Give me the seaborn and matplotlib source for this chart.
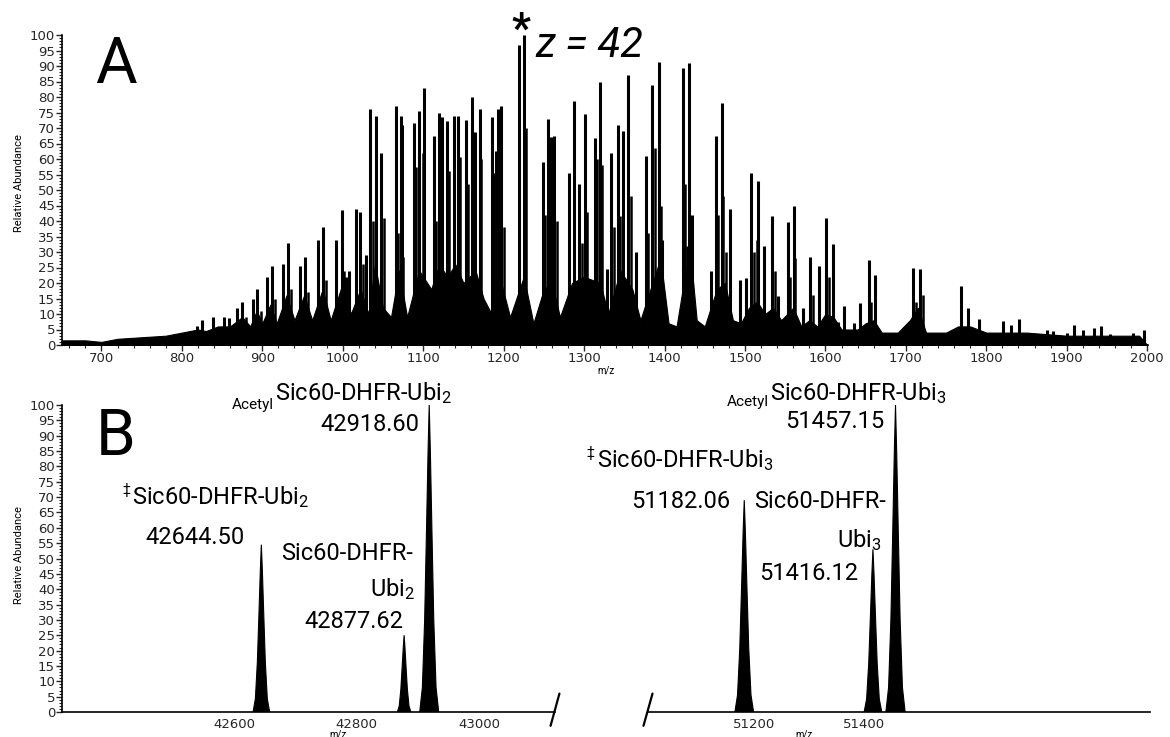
import numpy as np
import pandas as pd
import matplotlib
matplotlib.use("Agg")
import matplotlib.pyplot as plt
import seaborn as sns
from matplotlib import font_manager
from matplotlib.ticker import MultipleLocator, FixedLocator

# ---------------- data ----------------
# Panel A: stick peaks (m/z, relative abundance)
peak_mz = [819, 825, 839, 852, 858, 869, 875, 888, 894, 906, 912, 926, 932, 947, 953,
           969, 975, 991, 999, 1004, 1008, 1016, 1022, 1029, 1034, 1041, 1047, 1066, 1072,
           1074, 1089, 1095, 1101, 1113, 1120, 1123, 1130, 1138, 1143, 1153, 1161, 1164,
           1170, 1186, 1191, 1192.5, 1197, 1219, 1225, 1249, 1255, 1259, 1263, 1281, 1287,
           1294, 1301.5, 1314, 1320, 1328, 1334, 1342, 1348, 1355, 1365, 1377, 1384.5, 1393,
           1397, 1422.5, 1430.5, 1434, 1458, 1464, 1472, 1481, 1494, 1501, 1508, 1516, 1524,
           1534, 1541, 1553, 1561, 1572.5, 1581, 1592, 1601, 1610, 1616, 1623, 1635, 1642.5,
           1654, 1662, 1709, 1718, 1768, 1777, 1791, 1821, 1831, 1841, 1876, 1883, 1900,
           1908.5, 1920.5, 1934, 1942.5, 1954, 1982, 1995.5]
peak_int = [6, 8, 9, 9, 8.7, 12, 14, 15, 18, 22, 25.5, 26, 33, 25.5, 28.5,
            34, 38, 34, 43.5, 22, 24, 44, 43, 29, 76, 74, 62, 77, 74,
            71, 71.6, 75.5, 83, 67.4, 75, 73.5, 72.4, 74, 74, 72.6, 80, 68.8,
            76, 73.7, 62.7, 76, 77, 96.8, 100, 59, 73, 67, 67.4, 55.6, 78.7,
            52, 74.5, 66.8, 85, 24.5, 62, 71, 69, 87, 30, 61, 84, 91.4,
            34, 89.5, 91, 42, 24, 67.5, 78, 44, 21, 21.6, 55.6, 53, 32,
            41.6, 15.8, 39.8, 45, 12, 28.5, 25.6, 41, 32.6, 7.5, 12.7, 7, 13.4,
            27.4, 22.6, 25, 24.4, 19, 12, 8.4, 7.8, 6.5, 8.5, 5, 4.5, 4,
            6.5, 5, 5.5, 6, 3.5, 4, 5]

# Panel A: adduct shoulders next to the main peaks
shoulder_mz = [880, 898, 916, 936, 957, 979, 1002, 1025, 1037, 1051, 1069, 1075, 1091.5,
               1099.4, 1116, 1123.8, 1131.6, 1145.4, 1155.7, 1172.3, 1187.6, 1200, 1228,
               1252, 1266, 1288, 1297, 1303.7, 1316, 1322, 1337, 1344.3, 1358.2, 1380,
               1388.6, 1396, 1426, 1428, 1431, 1467, 1465, 1473, 1476, 1511, 1515, 1537,
               1556, 1561.7, 1584, 1604, 1657, 1712, 1721]
shoulder_int = [9, 11, 15, 18, 17, 21, 24, 26, 40, 41, 36, 28.5, 57.5,
                62, 40, 52, 56, 60.5, 52, 60, 55.5, 38, 70,
                42, 40, 59, 33, 43, 60, 58, 38, 41.5, 48, 36,
                63.4, 45, 52, 32, 64, 42, 33.6, 48, 30, 30, 34, 24,
                22, 28, 16, 22, 14, 14, 16]

# Panel A: top of the dense unresolved background
bg_mz = [651, 680, 700, 720, 750, 780, 800, 820, 830, 845, 860, 875, 885, 893, 900,
         910, 918, 930, 940, 952, 962, 975, 985, 1000, 1010, 1022, 1032, 1040, 1050,
         1060, 1070, 1080, 1095, 1110, 1120, 1130, 1140, 1150, 1165, 1175, 1185, 1195,
         1208, 1225, 1237, 1250, 1260, 1270, 1285, 1300, 1320, 1330, 1345, 1360, 1370,
         1385, 1395, 1405, 1415, 1425, 1432, 1440, 1450, 1465, 1475, 1485, 1495, 1505,
         1515, 1525, 1535, 1545, 1560, 1570, 1580, 1590, 1600, 1610, 1620, 1640, 1650,
         1660, 1670, 1690, 1705, 1715, 1725, 1750, 1765, 1780, 1800, 1850, 1900, 1950,
         1990, 2000]
bg_int = [1.5, 1.5, 1, 2, 2.5, 3, 4, 5, 4.5, 6, 6, 9, 6, 11, 7,
          13, 7, 16, 8, 16, 8, 18, 8, 20, 10, 18, 10, 26, 12,
          9, 24, 9, 24, 18, 26, 22, 26, 20, 24, 15, 10, 22,
          9, 22, 7, 18, 20, 9, 20, 22, 20, 10, 24, 18, 8,
          20, 28, 7, 6, 22, 30, 8, 6, 18, 20, 8, 7, 12,
          14, 10, 12, 8, 12, 6, 8, 6, 10, 9, 5, 5, 7,
          8, 4, 4, 8, 12, 4, 4, 6, 6, 4, 4, 3, 3,
          3, 0]

# Panel B (deconvoluted masses, Da)
b2_mass = [42644.50, 42877.62, 42918.60]
b2_int = [54.5, 25, 100]
b2_halfwidth = [13.5, 11, 15.5]
b3_mass = [51182.06, 51416.12, 51457.15]
b3_int = [69, 53, 100]
b3_halfwidth = [17, 16, 17.5]

# peak profile: fraction of height vs fraction of base half-width
prof_h = [0.0, 0.08, 0.3, 0.6, 0.85, 1.0]
prof_w = [1.0, 0.72, 0.48, 0.28, 0.12, 0.0]

yticks = list(range(0, 101, 5))
a_xticks = list(range(700, 2001, 100))
b2_xticks = [42600, 42800, 43000]
b3_xticks = [51200, 51400]

# ---------------- style ----------------
sns.set_style("white")
avail = {f.name for f in font_manager.fontManager.ttflist}
NARROW = next(f for f in ["Liberation Sans Narrow", "Roboto", "DejaVu Sans"] if f in avail)
plt.rcParams["font.family"] = ["DejaVu Sans"]
plt.rcParams["mathtext.fontset"] = "custom"
plt.rcParams["mathtext.rm"] = NARROW
plt.rcParams["mathtext.default"] = "regular"

W, H = 1170, 737
fig = plt.figure(figsize=(W / 100, H / 100), dpi=100)


def px_axes(x0, y0, x1, y1):
    return fig.add_axes([x0 / W, 1 - y1 / H, (x1 - x0) / W, (y1 - y0) / H])


def ftext(x, y, s, **kw):
    kw.setdefault("family", NARROW)
    kw.setdefault("color", "black")
    fig.text(x / W, 1 - y / H, s, **kw)


def style_y(ax):
    ax.set_ylim(0, 100)
    ax.yaxis.set_major_locator(FixedLocator(yticks))
    ax.yaxis.set_minor_locator(MultipleLocator(1))
    ax.tick_params(axis="y", which="major", direction="out", length=4, width=1,
                   labelsize=9.5, pad=1, left=True)
    ax.tick_params(axis="y", which="minor", direction="out", length=2.5, width=0.8, left=True)


TICK_FONT = "DejaVu Sans"

# ---------------- Panel A ----------------
axA = px_axes(62, 35, 1148, 345)
axA.fill_between(bg_mz, 0, bg_int, color="black", lw=0.8)
axA.vlines(shoulder_mz, 0, shoulder_int, color="black", lw=1.8)
axA.vlines(peak_mz, 0, peak_int, color="black", lw=2.2)
axA.set_xlim(651, 2001)
style_y(axA)
axA.xaxis.set_major_locator(FixedLocator(a_xticks))
axA.xaxis.set_minor_locator(MultipleLocator(20))
axA.tick_params(axis="x", which="major", direction="out", length=4, width=1,
                labelsize=9.5, pad=1, bottom=True)
axA.tick_params(axis="x", which="minor", direction="out", length=2.5, width=0.8, bottom=True)
for s in ["top", "right"]:
    axA.spines[s].set_visible(False)
for s in ["left", "bottom"]:
    axA.spines[s].set_color("black")
    axA.spines[s].set_linewidth(1.2)

# ---------------- Panel B ----------------
def draw_peaks(ax, centers, heights, halfw):
    for c, h, w in zip(centers, heights, halfw):
        xs = [c - pw * w for pw in prof_w] + [c + pw * w for pw in reversed(prof_w)]
        ys = [ph * h for ph in prof_h] + [ph * h for ph in reversed(prof_h)]
        ax.fill(xs, ys, color="black", lw=0.8)


axB1 = px_axes(62, 405, 555, 712)
draw_peaks(axB1, b2_mass, b2_int, b2_halfwidth)
axB1.set_xlim(42319, 43124)
style_y(axB1)
axB1.xaxis.set_major_locator(FixedLocator(b2_xticks))
axB1.tick_params(axis="x", which="major", length=0, labelsize=9.5, pad=4, bottom=True)
for s in ["top", "right"]:
    axB1.spines[s].set_visible(False)
for s in ["left", "bottom"]:
    axB1.spines[s].set_color("black")
    axB1.spines[s].set_linewidth(1.2)

axB2 = px_axes(648, 405, 1150, 712)
draw_peaks(axB2, b3_mass, b3_int, b3_halfwidth)
axB2.set_xlim(51007, 51920)
axB2.set_ylim(0, 100)
axB2.set_yticks([])
axB2.xaxis.set_major_locator(FixedLocator(b3_xticks))
axB2.tick_params(axis="x", which="major", length=0, labelsize=9.5, pad=4, bottom=True)
for s in ["top", "right", "left"]:
    axB2.spines[s].set_visible(False)
axB2.spines["bottom"].set_color("black")
axB2.spines["bottom"].set_linewidth(1.2)

for ax in (axA, axB1, axB2):
    for lab in ax.get_xticklabels() + ax.get_yticklabels():
        lab.set_family(TICK_FONT)

# axis break marks
for ax, xb in ((axB1, 1.0), (axB2, 0.0)):
    ax.plot([xb - 0.009, xb + 0.009], [-0.045, 0.06], transform=ax.transAxes,
            color="black", lw=1.6, clip_on=False)

# ---------------- texts ----------------
ftext(19, 183, "Relative Abundance", rotation=90, ha="center", va="center", fontsize=8)
ftext(19, 555, "Relative Abundance", rotation=90, ha="center", va="center", fontsize=8)
ftext(606, 370, "m/z", ha="center", va="center", fontsize=7)
ftext(338, 734, "m/z", ha="center", va="center", fontsize=7)
ftext(804, 734, "m/z", ha="center", va="center", fontsize=7)

ftext(95, 83, "A", ha="left", va="baseline", fontsize=46)
ftext(96, 455, "B", ha="left", va="baseline", fontsize=46)
ftext(521, 42, "*", ha="center", va="baseline", fontsize=30, fontweight="bold")
ftext(535, 57, "z = 42", ha="left", va="baseline", fontsize=30, style="italic")

FS = 17
SF = 11
# left B
ftext(274, 409, "Acetyl", ha="right", va="baseline", fontsize=SF)
ftext(275, 400, "Sic60-DHFR-Ubi$_2$", ha="left", va="baseline", fontsize=FS)
ftext(419, 431, "42918.60", ha="right", va="baseline", fontsize=FS)
ftext(122, 494, "\u2021", ha="left", va="baseline", fontsize=10)
ftext(132, 504, "Sic60-DHFR-Ubi$_2$", ha="left", va="baseline", fontsize=FS)
ftext(145, 544, "42644.50", ha="left", va="baseline", fontsize=FS)
ftext(413, 560, "Sic60-DHFR-", ha="right", va="baseline", fontsize=FS)
ftext(415, 596, "Ubi$_2$", ha="right", va="baseline", fontsize=FS)
ftext(403, 628, "42877.62", ha="right", va="baseline", fontsize=FS)
# right B
ftext(769, 406, "Acetyl", ha="right", va="baseline", fontsize=SF)
ftext(770, 400, "Sic60-DHFR-Ubi$_3$", ha="left", va="baseline", fontsize=FS)
ftext(884, 428, "51457.15", ha="right", va="baseline", fontsize=FS)
ftext(586, 457, "\u2021", ha="left", va="baseline", fontsize=10)
ftext(597, 467, "Sic60-DHFR-Ubi$_3$", ha="left", va="baseline", fontsize=FS)
ftext(730, 508, "51182.06", ha="right", va="baseline", fontsize=FS)
ftext(754, 508, "Sic60-DHFR-", ha="left", va="baseline", fontsize=FS)
ftext(882, 547, "Ubi$_3$", ha="right", va="baseline", fontsize=FS)
ftext(858, 580, "51416.12", ha="right", va="baseline", fontsize=FS)

fig.savefig("out.png", dpi=100, facecolor="white")
